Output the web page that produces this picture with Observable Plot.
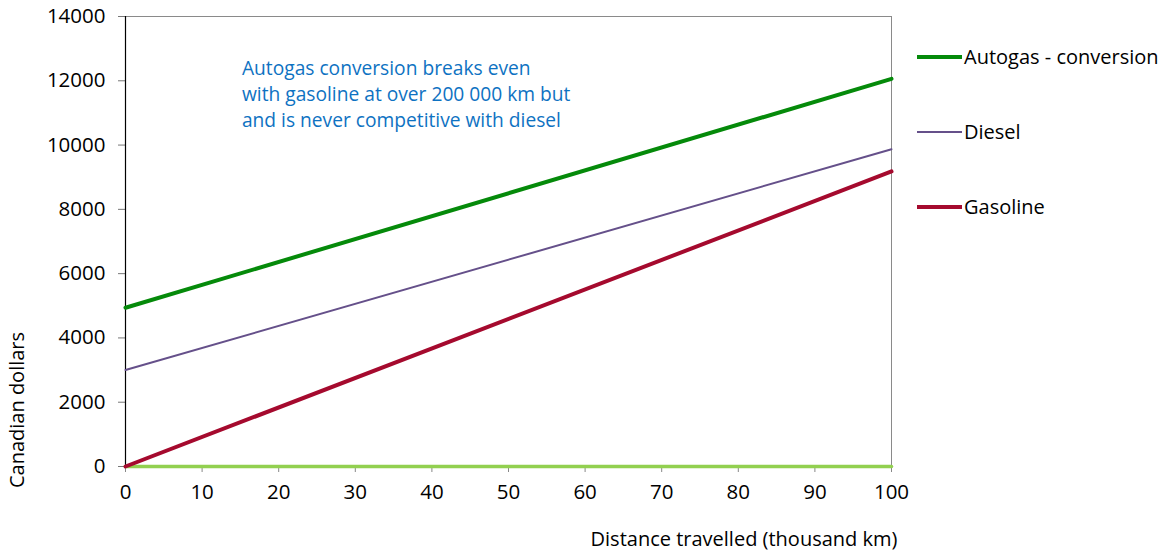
<!DOCTYPE html>
<html>
<head>
<meta charset="utf-8">
<script src="https://cdn.jsdelivr.net/npm/d3@7"></script>
<script src="https://cdn.jsdelivr.net/npm/@observablehq/plot@0.6"></script>
<style>
  html, body { margin: 0; padding: 0; background: #fff; }
  #chart { position: relative; width: 1169px; height: 557px; }
</style>
</head>
<body>
<div id="chart"></div>
<script>
// ---- data ----
const distanceKm = [0, 100];               // thousand km
const autogasConversion = [4940, 12060];   // Canadian dollars
const diesel = [3000, 9870];
const gasoline = [0, 9180];
const baseline = [0, 0];                   // light-green series lying on zero
const xTicks = [0, 10, 20, 30, 40, 50, 60, 70, 80, 90, 100];
const yTicks = [0, 2000, 4000, 6000, 8000, 10000, 12000, 14000];
const seriesNames = ["Autogas - conversion", "Diesel", "Gasoline"];
const noteLines = [
  "Autogas conversion breaks even",
  "with gasoline at over 200 000 km but",
  "and is never competitive with diesel"
];
const xTitle = "Distance travelled (thousand km)";
const yTitle = "Canadian dollars";

const toRows = (vals) => distanceKm.map((d, i) => ({x: d, y: vals[i]}));

const FONT = "'Open Sans', Lato, sans-serif";
const FS_TICK = 20.5;
const FS_TITLE = 20;
const FS_NOTE = 19.2;
const colors = {
  autogas: "#058A0A",
  diesel: "#65508A",
  gasoline: "#A50A2E",
  zero: "#92D050",
  note: "#0E72C2"
};

const plot = Plot.plot({
  width: 1169,
  height: 557,
  marginLeft: 125,
  marginRight: 278,
  marginTop: 16,
  marginBottom: 91,
  style: {fontFamily: FONT, fontSize: FS_TICK + "px", color: "#000", background: "#fff"},
  x: {domain: [0, 100]},
  y: {domain: [0, 14000]},
  marks: [
    Plot.ruleY([14000], {stroke: "#8a8a8a", strokeWidth: 1}),
    Plot.ruleX([100], {stroke: "#8a8a8a", strokeWidth: 1}),
    Plot.axisY({ticks: yTicks, tickFormat: d3.format("d"), tickSize: 7, tickPadding: 13,
      stroke: "#777", label: null, fontSize: FS_TICK}),
    Plot.axisX({ticks: xTicks, tickFormat: d3.format("d"), tickSize: 6, tickPadding: 12,
      stroke: "#888", label: null, fontSize: FS_TICK}),
    Plot.ruleX([0], {stroke: "#000", strokeWidth: 1.2}),
    Plot.line(toRows(baseline), {x: "x", y: "y", stroke: colors.zero, strokeWidth: 3.5}),
    Plot.line(toRows(diesel), {x: "x", y: "y", stroke: colors.diesel, strokeWidth: 2}),
    Plot.line(toRows(gasoline), {x: "x", y: "y", stroke: colors.gasoline, strokeWidth: 4}),
    Plot.line(toRows(autogasConversion), {x: "x", y: "y", stroke: colors.autogas, strokeWidth: 4}),
    Plot.text([noteLines.join("\n")], {x: 15.2, y: 12760, text: d => d, textAnchor: "start",
      lineAnchor: "top", lineHeight: 1.36, fill: colors.note, fontSize: FS_NOTE})
  ]
});

document.getElementById("chart").appendChild(plot);

// axis titles and legend, appended to the same SVG
const svg = d3.select(plot);
svg.append("text")
  .attr("x", 744).attr("y", 541)
  .attr("text-anchor", "middle").attr("dominant-baseline", "middle")
  .style("font-family", FONT).style("font-size", FS_TITLE + "px").attr("fill", "#000")
  .text(xTitle);
svg.append("text")
  .attr("transform", "translate(19,410) rotate(-90)")
  .attr("text-anchor", "middle").attr("dominant-baseline", "middle")
  .style("font-family", FONT).style("font-size", FS_TITLE + "px").attr("fill", "#000")
  .text(yTitle);

const legendItems = [
  {name: seriesNames[0], color: colors.autogas, w: 4, y: 57},
  {name: seriesNames[1], color: colors.diesel, w: 2, y: 132},
  {name: seriesNames[2], color: colors.gasoline, w: 4, y: 207}
];
const lg = svg.append("g");
legendItems.forEach(it => {
  lg.append("line").attr("x1", 917).attr("x2", 962).attr("y1", it.y).attr("y2", it.y)
    .attr("stroke", it.color).attr("stroke-width", it.w);
  lg.append("text").attr("x", 964).attr("y", it.y + 1.5)
    .attr("text-anchor", "start").attr("dominant-baseline", "middle")
    .style("font-family", FONT).style("font-size", FS_TITLE + "px").attr("fill", "#000")
    .text(it.name);
});
</script>
</body>
</html>
